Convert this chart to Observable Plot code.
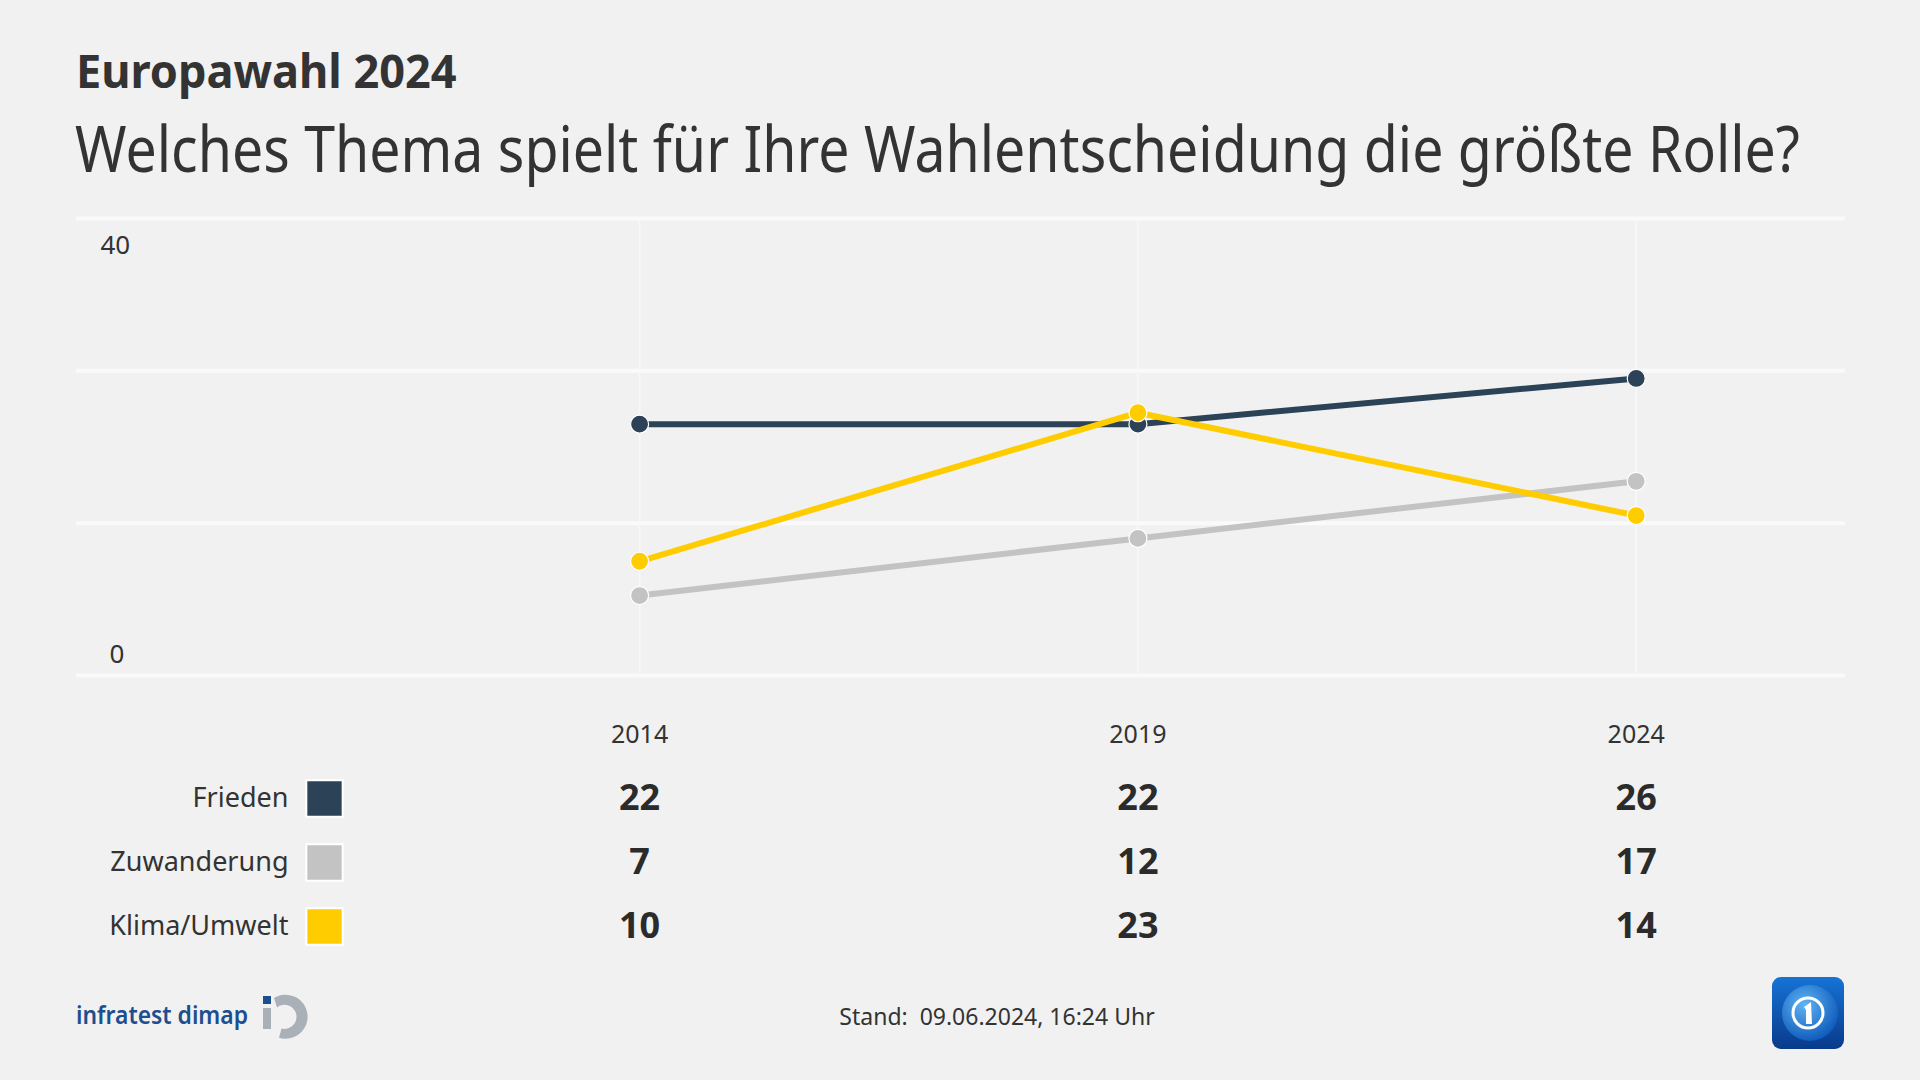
<!DOCTYPE html>
<html>
<head>
<meta charset="utf-8">
<script src="https://cdn.jsdelivr.net/npm/d3@7"></script>
<script src="https://cdn.jsdelivr.net/npm/@observablehq/plot@0.6"></script>
<style>
  html, body { margin: 0; padding: 0; background: #f1f1f1; }
  body { width: 1920px; height: 1080px; position: relative; overflow: hidden; font-family: "Noto Sans", sans-serif; color: #333; }
  .abs { position: absolute; white-space: nowrap; }
  #kicker { left: 76px; top: 40px; font-size: 46px; font-weight: 700; line-height: 60px; color: #333; transform: scaleX(0.98); transform-origin: left center; }
  #title { left: 75px; top: 106px; font-size: 63px; font-weight: 400; line-height: 84px; color: #333; transform: scaleX(0.88); transform-origin: left center; }
  #chart { left: 0; top: 200px; }
  #table { left: 0; top: 700px; }
  #stand { left: 0; width: 1994px; top: 1000px; text-align: center; font-size: 23px; line-height: 32px; color: #333; }
  #logo1 { left: 76px; top: 990px; }
  #logo2 { left: 1772px; top: 977px; }
</style>
</head>
<body>
<div id="kicker" class="abs">Europawahl 2024</div>
<div id="title" class="abs">Welches Thema spielt für Ihre Wahlentscheidung die größte Rolle?</div>
<div id="chart" class="abs"></div>
<div id="table" class="abs"></div>
<div id="stand" class="abs">Stand:&nbsp; 09.06.2024, 16:24 Uhr</div>
<div id="logo1" class="abs">
  <svg width="240" height="56" viewBox="0 0 240 56">
    <text x="0" y="34" font-family="Noto Sans, sans-serif" font-size="25" font-weight="600" fill="#1d4f8f" textLength="172" lengthAdjust="spacingAndGlyphs">infratest dimap</text>
    <rect x="187" y="6" width="8" height="8" fill="#1d4f8f"/>
    <rect x="187" y="18" width="8" height="21" fill="#a9b0b8"/>
    <path d="M 198 8 A 22 22 0 1 1 203 47.7 L 205.5 38.5 A 12 12 0 1 0 201 17.5 Z" fill="#a9b0b8"/>
  </svg>
</div>
<div id="logo2" class="abs">
  <svg width="72" height="72" viewBox="0 0 72 72">
    <defs>
      <linearGradient id="g1" x1="0" y1="0" x2="0" y2="1">
        <stop offset="0" stop-color="#1673d6"/>
        <stop offset="1" stop-color="#083a8a"/>
      </linearGradient>
      <radialGradient id="g2" cx="0.4" cy="0.35" r="0.7">
        <stop offset="0" stop-color="#5fb4f5"/>
        <stop offset="1" stop-color="#0b57b8"/>
      </radialGradient>
    </defs>
    <rect x="0" y="0" width="72" height="72" rx="9" fill="url(#g1)"/>
    <circle cx="38" cy="36" r="28" fill="url(#g2)"/>
    <circle cx="36" cy="36" r="15" fill="none" stroke="#fff" stroke-width="3"/>
    <path d="M32 30 L39 25 L40 47 L34 47 L34 33 Z" fill="#fff"/>
  </svg>
</div>
<script>
// ---- data ----
const years = [2014, 2019, 2024];
const series = ["Frieden", "Zuwanderung", "Klima/Umwelt"];
const frieden = [22, 22, 26];
const zuwanderung = [7, 12, 17];
const klima = [10, 23, 14];
const colors = ["#2b4257", "#c3c3c3", "#ffcc00"];
const yTickLabels = [40, 0];
const yMax = 40;

const valuesBySeries = [frieden, zuwanderung, klima];
const data = series.flatMap((s, i) => years.map((yr, j) => ({series: s, year: yr, value: valuesBySeries[i][j]})));
const gridValues = [0, 1, 2, 3].map(k => k * yMax / 3);

const font = "Noto Sans, sans-serif";
const xDomain = [2008.35, 2026.1];

const chart = Plot.plot({
  width: 1920,
  height: 480,
  marginLeft: 76,
  marginRight: 75,
  marginTop: 18,
  marginBottom: 5,
  x: {domain: xDomain, axis: null},
  y: {domain: [0, yMax], axis: null},
  color: {domain: series, range: colors},
  style: {background: "transparent", fontFamily: font, color: "#333", overflow: "visible"},
  marks: [
    Plot.ruleY(gridValues, {stroke: "#fafafa", strokeWidth: 4}),
    Plot.ruleX(years, {stroke: "#f8f8f8", strokeWidth: 1.5}),
    Plot.line(data, {x: "year", y: "value", z: "series", stroke: "series", strokeWidth: 6}),
    Plot.dot(data, {x: "year", y: "value", fill: "series", r: 9, stroke: "#ffffff", strokeWidth: 1.2}),
    Plot.text(yTickLabels.filter(v => v === yMax), {y: d => d, text: d => String(d), frameAnchor: "left", dx: 24, dy: 27, fontSize: 26, fill: "#333"}),
    Plot.text(yTickLabels.filter(v => v === 0), {y: d => d, text: d => String(d), frameAnchor: "left", dx: 33, dy: -21, fontSize: 26, fill: "#333"})
  ]
});
document.getElementById("chart").appendChild(chart);

const rowDomain = ["", ...series];
const table = Plot.plot({
  width: 1920,
  height: 260,
  marginLeft: 76,
  marginRight: 75,
  marginTop: 33,
  marginBottom: 34,
  x: {domain: xDomain, axis: null},
  y: {type: "point", domain: rowDomain, axis: null, padding: 0},
  color: {domain: series, range: colors},
  style: {background: "transparent", fontFamily: font, color: "#333", overflow: "visible"},
  marks: [
    Plot.text(years, {x: d => d, y: () => "", text: d => String(d), fontSize: 25, fill: "#333"}),
    Plot.text(data, {x: "year", y: "series", text: d => String(d.value), fontSize: 36, fontWeight: "bold", fill: "#2b2b2b"}),
    Plot.text(series, {y: d => d, text: d => d, frameAnchor: "left", dx: 212, textAnchor: "end", fontSize: 27, fill: "#333"}),
    Plot.dot(series, {y: d => d, frameAnchor: "left", dx: 248, symbol: "square", r: 20.5, fill: d => d, stroke: "#ffffff", strokeWidth: 2})
  ]
});
document.getElementById("table").appendChild(table);
</script>
</body>
</html>
